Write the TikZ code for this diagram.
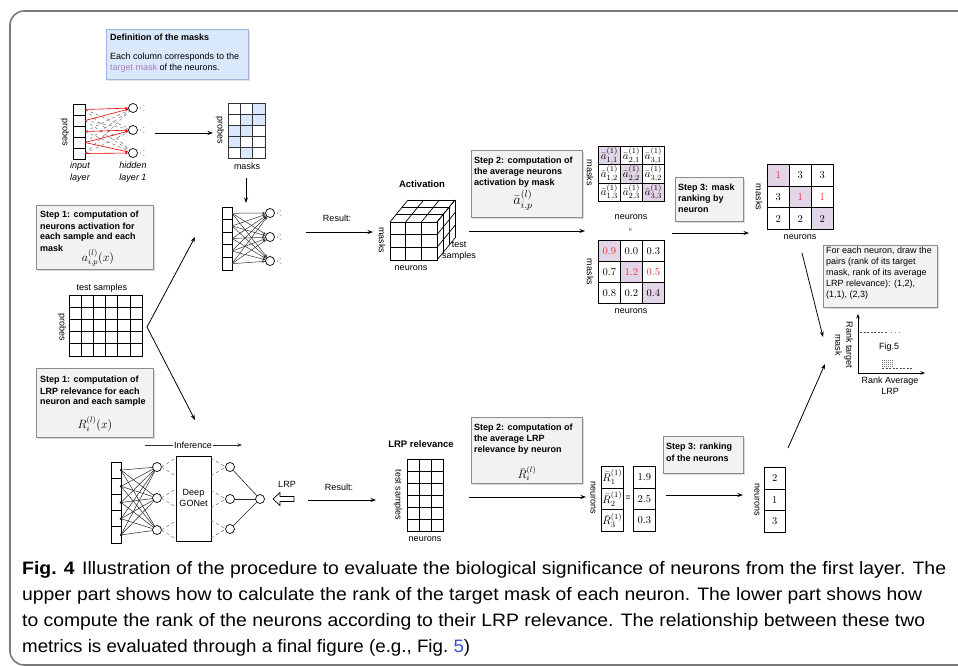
\documentclass[tikz,border=0pt]{standalone}
\usepackage{fontspec}
\usepackage{graphicx}
\usetikzlibrary{arrows.meta}
\newfontfamily\arial{Liberation Sans}
\definecolor{boxfill}{HTML}{F2F2F2}
\definecolor{boxline}{HTML}{8C8C8C}
\definecolor{bluefill}{HTML}{DAE8FC}
\definecolor{blueline}{HTML}{9DB6DA}
\definecolor{purp}{HTML}{E1D5E7}
\definecolor{purptxt}{HTML}{A680B8}
\definecolor{redtxt}{HTML}{F03030}
\definecolor{framec}{HTML}{7A7A7A}
\definecolor{linkblue}{HTML}{3355CC}
\newlength\fitw
\newcommand\fitto[2]{\settowidth\fitw{#2}\pgfmathsetmacro\fitr{#1/\fitw}\scalebox{\fitr}[1]{#2}}
\begin{document}
\begin{tikzpicture}[x=1pt,y=-1pt,
  lbl/.style={font=\arial\fontsize{9}{11}\selectfont, inner sep=0pt},
  blbl/.style={font=\arial\bfseries\fontsize{9}{11}\selectfont, inner sep=0pt},
  ilbl/.style={font=\arial\itshape\fontsize{9}{12}\selectfont, inner sep=0pt, align=center},
  vlbl/.style={lbl, rotate=-90},
  stepbox/.style={draw=boxline, fill=boxfill, line width=0.7pt},
  shadowbox/.style={fill=black!15, draw=none},
  arr/.style={-{Stealth[length=5.5pt,width=4pt]}, line width=0.8pt},
  cell/.style={draw, line width=0.7pt},
  mcell/.style={draw, line width=0.7pt, inner sep=0pt, anchor=north west, minimum width=22pt},
  neuron/.style={circle, draw, line width=0.7pt, fill=white, minimum size=9pt, inner sep=0pt},
  capf/.style={font=\arial\fontsize{18}{22}\selectfont, inner sep=0pt, anchor=base west}
  ]
\useasboundingbox (0,0) rectangle (958,666);
\fill[white] (0,0) rectangle (958,666);
\draw[framec, line width=1.6pt, rounded corners=14pt] (962,11) -- (10,11) -- (10,665) -- (962,665);

% ---------- definition box
\fill[black!12] (108,31) rectangle (250,81);
\node[draw=blueline, fill=bluefill, line width=0.7pt, minimum width=142pt, minimum height=50pt, anchor=north west, inner sep=0pt] (defbox) at (106,29) {};
\node[blbl, anchor=west] (deft) at (110,37) {Definition of the masks};
\node[lbl, anchor=west] (defa) at (110,57) {Each column corresponds to the};
\node[lbl, anchor=west] (defb) at (110,68) {\textcolor{purptxt}{target mask} of the neurons.};

% ---------- upper-left network
\foreach \k in {0,...,4} \draw[cell, fill=white] (73,104+11*\k) rectangle ++(12,11);
\node[neuron] (h1) at (133,108) {};
\node[neuron] (h2) at (133,130) {};
\node[neuron] (h3) at (133,153) {};
\foreach \c/\n in {1/2,1/3,2/2,2/3,3/1,3/3,4/1,5/1,5/2}
  \draw[black!55, dashed, line width=0.5pt] (85,98.5+11*\c) -- (h\n);
\foreach \c/\n in {1/1,2/1,3/2,4/2,4/3,5/3}
  \draw[red!90!black, line width=0.6pt, -{Stealth[length=3pt,width=2.5pt]}] (85,98.5+11*\c) -- (h\n);
\foreach \n in {h1,h2,h3} {
  \fill[black!70] ([xshift=2.5pt]\n.east) circle (0.55pt);
  \fill[black!70] ([xshift=6pt,yshift=2.3pt]\n.east) circle (0.55pt);
  \fill[black!70] ([xshift=6pt,yshift=-2.3pt]\n.east) circle (0.55pt);
}
\node[vlbl] (prb1) at (65,132) {probes};
\node[ilbl] (inl) at (80,172) {input\\layer};
\node[ilbl] (hidl) at (133,172) {hidden\\layer 1};
\coordinate (a1s) at (155,133); \coordinate (a1e) at (213,133);
\draw[arr] (a1s) -- (a1e);

% mask matrix
\foreach \c/\r in {2/0,1/1,2/1,0/2,1/2,0/3,1/4} \fill[bluefill] (228+12.33*\c,103+11*\r) rectangle ++(12.33,11);
\foreach \r in {0,...,4} \foreach \c in {0,1,2} \draw[cell, black!80] (228+12.33*\c,103+11*\r) rectangle ++(12.33,11);
\node[vlbl] (prb2) at (220,130) {probes};
\node[lbl] (msk1) at (247,166) {masks};
\coordinate (a2s) at (246,178); \coordinate (a2e) at (246,203);
\draw[arr] (a2s) -- (a2e);

% ---------- network 2 (activation)
\foreach \k in {0,...,4} \draw[cell, fill=white] (222,207+12.6*\k) rectangle ++(10,12.6);
\node[neuron] (n1) at (270,213) {};
\node[neuron] (n2) at (270,237) {};
\node[neuron] (n3) at (270,261) {};
\foreach \k in {0,...,4} \foreach \n in {1,2,3}
  \draw[black!80, line width=0.5pt, -{Stealth[length=3pt,width=2.6pt]}] (232,213.3+12.6*\k) -- (n\n);
\foreach \n in {n1,n2,n3} {
  \fill[black!70] ([xshift=2.5pt]\n.east) circle (0.55pt);
  \fill[black!70] ([xshift=6pt,yshift=2.3pt]\n.east) circle (0.55pt);
  \fill[black!70] ([xshift=6pt,yshift=-2.3pt]\n.east) circle (0.55pt);
}

% ---------- step 1 (activation)
\fill[shadowbox] (38,207) rectangle (155,271);
\node[stepbox, minimum width=117pt, minimum height=64pt, anchor=north west, inner sep=0pt] (s1a) at (36,205) {};
\foreach \t [count=\i from 0] in {Step 1: computation of, neurons activation for, each sample and each, mask}
  \node[blbl, anchor=west] (s1at\i) at (40,215+11*\i) {\t};
\node[inner sep=0pt] (s1am) at (98,258) {\large$a^{(l)}_{i,p}(x)$};

% test samples grid
\foreach \r in {0,...,4} \foreach \c in {0,...,5} \draw[cell] (69+12.17*\c,295+12.2*\r) rectangle ++(12.17,12.2);
\node[lbl] (tsl) at (102,288) {test samples};
\node[vlbl] (prb3) at (62,327) {probes};
\coordinate (split) at (147,327);
\coordinate (upend) at (195,237);
\coordinate (dnend) at (195,420);
\draw[arr] (split) -- (upend);
\draw[arr] (split) -- (dnend);

% ---------- step 1 (LRP)
\fill[shadowbox] (38,370) rectangle (155,439);
\node[stepbox, minimum width=117pt, minimum height=69pt, anchor=north west, inner sep=0pt] (s1b) at (36,368) {};
\foreach \t [count=\i from 0] in {Step 1: computation of, LRP relevance for each, neuron and each sample}
  \node[blbl, anchor=west] (s1bt\i) at (40,380+11*\i) {\t};
\node[inner sep=0pt] (s1bm) at (95,424) {\large$R^{(l)}_{i}(x)$};

% ---------- result 1 and cube
\node[lbl] (res1) at (337,218) {Result:};
\coordinate (r1s) at (306,232); \coordinate (r1e) at (373,232);
\draw[arr] (r1s) -- (r1e);
\fill[white] (390,222) -- (437,222) -- (455,200) -- (408,200) -- cycle;
\fill[white] (437,222) -- (455,200) -- (455,238) -- (437,260) -- cycle;
\foreach \j in {0,...,3} \draw[line width=0.7pt] (390+6*\j,222-7.33*\j) -- (437+6*\j,222-7.33*\j);
\foreach \i in {0,...,3} \draw[line width=0.7pt] (390+15.67*\i,222) -- (408+15.67*\i,200);
\foreach \j in {0,...,3} \draw[line width=0.7pt] (437+6*\j,222-7.33*\j) -- (437+6*\j,260-7.33*\j);
\foreach \k in {0,...,3} \draw[line width=0.7pt] (437,222+12.67*\k) -- (455,200+12.67*\k);
\foreach \r in {0,1,2} \foreach \c in {0,1,2} \draw[line width=0.9pt, fill=white] (390+15.67*\c,222+12.67*\r) rectangle ++(15.67,12.67);
\node[font=\arial\bfseries\fontsize{9.5}{11}\selectfont, inner sep=0pt] (actt) at (422,184) {Activation};
\node[vlbl] (cmask) at (382,240) {masks};
\node[lbl] (cneur) at (411,268) {neurons};
\node[lbl, align=center] (ctest) at (459,251) {test\\samples};

% ---------- step 2 (activation)
\fill[shadowbox] (473,152) rectangle (584,219);
\node[stepbox, minimum width=111pt, minimum height=67pt, anchor=north west, inner sep=0pt] (s2a) at (471,150) {};
\foreach \t [count=\i from 0] in {Step 2: computation of, the average neurons, activation by mask}
  \node[blbl, anchor=west] (s2at\i) at (474,161+11*\i) {\t};
\node[inner sep=0pt] (s2am) at (523,200) {\Large$\bar{a}^{(l)}_{i,p}$};
\coordinate (r2s) at (469,231); \coordinate (r2e) at (585,231);
\draw[arr] (r2s) -- (r2e);

% matrix of averaged activations (symbolic)
\foreach \r in {0,1,2} \foreach \c in {0,1,2} {
  \pgfmathtruncatemacro\cc{\c+1}
  \pgfmathtruncatemacro\rr{\r+1}
  \ifnum\r=\c \def\ff{purp}\else\def\ff{white}\fi
  \node[mcell, minimum height=18.33pt, fill=\ff, font=\fontsize{10.95}{13}\selectfont] (am\r\c) at (598+22*\c,146+18.33*\r) {$\bar{a}^{(1)}_{\cc,\rr}$};
}
\node[vlbl] (amask) at (590,173) {masks};
\node[lbl] (aneur) at (631,217) {neurons};
\node[lbl, rotate=90, font=\arial\fontsize{6}{7}\selectfont] (aeq) at (631,230) {=};

% matrix of averaged activations (values)
\foreach \v/\tc [count=\i from 0] in {0.9/redtxt,0.0/black,0.3/black,0.7/black,1.2/redtxt,0.5/redtxt,0.8/black,0.2/black,0.4/black} {
  \pgfmathtruncatemacro\r{\i/3}
  \pgfmathtruncatemacro\c{\i-3*\r}
  \ifnum\r=\c \def\ff{purp}\else\def\ff{white}\fi
  \node[mcell, minimum height=21pt, fill=\ff, text=\tc, font=\rmfamily\fontsize{10.5}{12}\selectfont] (vm\i) at (598+22*\c,240+21*\r) {\v};
}
\node[vlbl] (vmask) at (590,272) {masks};
\node[lbl] (vneur) at (631,311) {neurons};

% ---------- step 3 (mask ranking)
\fill[shadowbox] (677,179) rectangle (745,223);
\node[stepbox, minimum width=68pt, minimum height=44pt, anchor=north west, inner sep=0pt] (s3a) at (675,177) {};
\foreach \t [count=\i from 0] in {Step 3: mask, ranking by, neuron}
  \node[blbl, anchor=west] (s3at\i) at (678,188+11*\i) {\t};
\coordinate (r3s) at (672,233); \coordinate (r3e) at (749,233);
\draw[arr] (r3s) -- (r3e);
\foreach \v/\tc [count=\i from 0] in {1/redtxt,3/black,3/black,3/black,1/redtxt,1/redtxt,2/black,2/black,2/black} {
  \pgfmathtruncatemacro\r{\i/3}
  \pgfmathtruncatemacro\c{\i-3*\r}
  \ifnum\r=\c \def\ff{purp}\else\def\ff{white}\fi
  \node[mcell, minimum height=21.67pt, fill=\ff, text=\tc, font=\rmfamily\fontsize{10.5}{12}\selectfont] (rk\i) at (767+22*\c,164+21.67*\r) {\v};
}
\node[vlbl] (rmask) at (759,197) {masks};
\node[lbl] (rneur) at (800,237) {neurons};

% ---------- "for each neuron" box
\fill[shadowbox] (825,247) rectangle (939,309);
\node[stepbox, minimum width=114pt, minimum height=62pt, anchor=north west, inner sep=0pt] (fe) at (823,245) {};
\foreach \t [count=\i from 0] in {{For each neuron, draw the}, {pairs (rank of its target}, {mask, rank of its average}, {LRP relevance): (1,2),}, {(1,1), (2,3)}}
  \node[lbl, anchor=west] (fet\i) at (826,251+11*\i) {\t};

% ---------- Fig.5 mini plot
\coordinate (o5) at (858,373);
\coordinate (y5) at (858,314);
\coordinate (x5) at (925,373);
\draw[-{Stealth[length=4.5pt,width=3.5pt]}, line width=0.7pt] (o5) -- (y5);
\draw[-{Stealth[length=4.5pt,width=3.5pt]}, line width=0.7pt] (o5) -- (x5);
\draw[black!70, line width=0.5pt, dash pattern=on 2pt off 1.5pt] (860,332) -- (887,332);
\draw[black!50, line width=0.5pt, dash pattern=on 1pt off 3pt] (891,332) -- (903,332);
\node[lbl] (f5) at (889,347) {Fig.5};
\foreach \yy in {360,362,364,366} \draw[black!55, line width=0.4pt, dash pattern=on 1pt off 1pt] (882,\yy) -- (894,\yy);
\draw[black!70, line width=0.5pt, dash pattern=on 2pt off 1.5pt] (882,368) -- (913,368);
\node[lbl, align=center] (f5x) at (890,386) {Rank Average\\LRP};
\node[lbl, align=center, rotate=-90] (f5y) at (844,345) {Rank target\\mask};
\coordinate (up1s) at (802,253); \coordinate (up1e) at (823,337);
\draw[arr] (up1s) -- (up1e);
\coordinate (lo1s) at (788,448); \coordinate (lo1e) at (825,364);
\draw[arr] (lo1s) -- (lo1e);

% ---------- bottom LRP network
\coordinate (infs) at (145,445); \coordinate (infe) at (242,445);
\draw[-{Stealth[length=4.5pt,width=3.5pt]}, line width=0.7pt, black!80] (infs) -- (infe);
\node[lbl, fill=white, inner sep=1pt] (inft) at (193,445) {Inference};
\foreach \k in {0,...,4} \draw[cell, fill=white] (111,462+16.2*\k) rectangle ++(10,16.2);
\node[neuron] (l1) at (157,467) {};
\node[neuron] (l2) at (157,498) {};
\node[neuron] (l3) at (157,530) {};
\foreach \k in {0,...,4} {
  \fill (121,470.1+16.2*\k) circle (1.3pt);
  \foreach \n in {1,2,3} \draw[black!85, line width=0.5pt] (121,470.1+16.2*\k) -- (l\n);
}
\node[draw, line width=0.7pt, fill=white, minimum width=35pt, minimum height=85pt, inner sep=0pt, anchor=north west] (gonet) at (176,456) {};
\node[lbl, align=center] (gont) at (193.5,498) {Deep\\GONet};
\node[neuron] (o1) at (230,467) {};
\node[neuron] (o2) at (230,499) {};
\node[neuron] (o3) at (230,529) {};
\node[neuron] (out) at (260,499) {};
\foreach \y in {467,498,530} {
  \draw[black!55, dashed, line width=0.5pt] (161.3,\y) -- (176,\y-9);
  \draw[black!55, dashed, line width=0.5pt] (161.3,\y) -- (176,\y+9);
}
\foreach \y in {467,499,529} {
  \draw[black!55, dashed, line width=0.5pt] (211,\y-9) -- (225.7,\y);
  \draw[black!55, dashed, line width=0.5pt] (211,\y+9) -- (225.7,\y);
}
\foreach \n in {o1,o2,o3} \draw[black!85, line width=0.6pt] (\n) -- (out);
\draw[line width=0.7pt, fill=white] (273,499) -- (280,492.5) -- (280,496.5) -- (294,496.5) -- (294,501.5) -- (280,501.5) -- (280,505.5) -- cycle;
\node[lbl] (lrpt) at (287,484) {LRP};
\node[lbl] (res2) at (339,487) {Result:};
\coordinate (r4s) at (308,500); \coordinate (r4e) at (376,500);
\draw[arr] (r4s) -- (r4e);

% LRP relevance grid
\node[font=\arial\bfseries\fontsize{9.5}{11}\selectfont, inner sep=0pt] (lrpr) at (421,444) {LRP relevance};
\foreach \r in {0,...,5} \foreach \c in {0,1,2} \draw[cell] (407+12*\c,459+12*\r) rectangle ++(12,12);
\node[vlbl] (lts) at (398,495) {test samples};
\node[lbl] (lneu) at (425,539) {neurons};

% ---------- step 2 (LRP)
\fill[shadowbox] (473,419) rectangle (584,485);
\node[stepbox, minimum width=111pt, minimum height=66pt, anchor=north west, inner sep=0pt] (s2b) at (471,417) {};
\foreach \t [count=\i from 0] in {Step 2: computation of, the average LRP, relevance by neuron}
  \node[blbl, anchor=west] (s2bt\i) at (474,428+11*\i) {\t};
\node[inner sep=0pt] (s2bm) at (527,473.5) {\large$\bar{R}^{(l)}_{i}$};
\coordinate (r5s) at (469,497); \coordinate (r5e) at (586,497);
\draw[arr] (r5s) -- (r5e);

% R column and values
\node[vlbl] (rcn) at (593,498) {neurons};
\foreach \k in {1,2,3}
  \node[mcell, minimum height=21.67pt, font=\fontsize{10.95}{13}\selectfont] (rc\k) at (601,466+21.67*\k-21.67) {$\bar{R}^{(1)}_{\k}$};
\node[lbl] (req) at (628,498) {=};
\foreach \v [count=\k] in {1.9,2.5,0.3}
  \node[mcell, minimum height=21.67pt, font=\rmfamily\fontsize{10.5}{12}\selectfont] (rv\k) at (633,466+21.67*\k-21.67) {\v};

% ---------- step 3 (neuron ranking)
\fill[shadowbox] (665,438) rectangle (745,475);
\node[stepbox, minimum width=80pt, minimum height=37pt, anchor=north west, inner sep=0pt] (s3b) at (663,436) {};
\foreach \t [count=\i from 0] in {Step 3: ranking, of the neurons}
  \node[blbl, anchor=west] (s3bt\i) at (666,447+11*\i) {\t};
\coordinate (r6s) at (666,495); \coordinate (r6e) at (743,495);
\draw[arr] (r6s) -- (r6e);
\node[vlbl] (rkn) at (757,500) {neurons};
\foreach \v [count=\k] in {2,1,3}
  \node[mcell, minimum width=21pt, minimum height=21.67pt, font=\rmfamily\fontsize{10.5}{12}\selectfont] (rr\k) at (764,467+21.67*\k-21.67) {\v};

% ---------- caption
\node[capf] (cap1) at (22,574) {\fitto{924pt}{\textbf{Fig. 4}\hspace{7pt}Illustration of the procedure to evaluate the biological significance of neurons from the first layer. The}};
\node[capf] (cap2) at (22,600) {\fitto{900pt}{upper part shows how to calculate the rank of the target mask of each neuron. The lower part shows how}};
\node[capf] (cap3) at (22,626) {\fitto{903pt}{to compute the rank of the neurons according to their LRP relevance. The relationship between these two}};
\node[capf] (cap4) at (22,652) {\fitto{448pt}{metrics is evaluated through a final figure (e.g., Fig.~\textcolor{linkblue}{5})}};
\end{tikzpicture}
\end{document}
